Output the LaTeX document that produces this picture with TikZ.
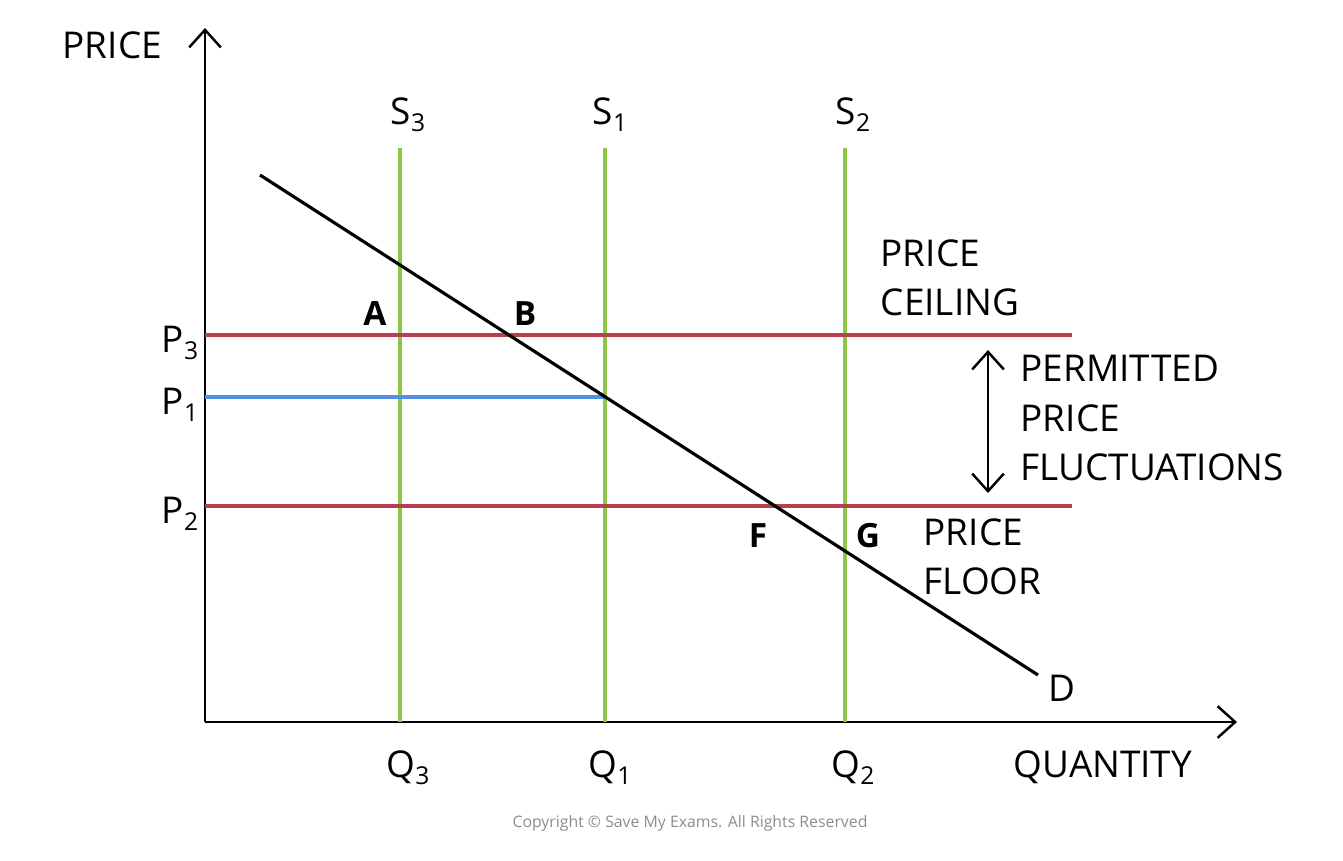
\documentclass[tikz,border=0pt]{standalone}
\usepackage{fontspec}
\setmainfont{Open Sans}
\usetikzlibrary{arrows.meta}
\definecolor{sgreen}{RGB}{140,200,70}
\definecolor{pred}{RGB}{180,65,75}
\definecolor{pblue}{RGB}{80,145,230}
\newcommand{\sbs}[1]{\raisebox{-0.35ex}{\fontsize{7}{8}\selectfont #1}}
\begin{document}
\begin{tikzpicture}[x=0.01cm,y=-0.01cm,
  lbl/.style={font=\fontsize{10.5}{12}\selectfont,inner sep=0pt},
  pt/.style={font=\fontsize{9.5}{11}\selectfont\bfseries,inner sep=0pt},
  axis/.style={line width=0.7pt,-{Straight Barb[length=5pt,width=9pt]}},
  sup/.style={sgreen,line width=0.9pt},
  lim/.style={pred,line width=0.9pt}]
\useasboundingbox (0,0) rectangle (1343,860);
\coordinate (O) at (205,722);
\coordinate (Ytop) at (205,28);
\coordinate (Xend) at (1237,722);
\draw[axis] (O) -- (Ytop);
\draw[axis] (O) -- (Xend);
\foreach \n/\x in {s3/400,s1/605,s2/845}{
  \coordinate (\n t) at (\x,148); \coordinate (\n b) at (\x,722);
  \draw[sup] (\n t) -- (\n b);}
\coordinate (p3a) at (205,335); \coordinate (p3b) at (1072,335);
\coordinate (p1a) at (205,397); \coordinate (p1b) at (605,397);
\coordinate (p2a) at (205,506); \coordinate (p2b) at (1072,506);
\draw[lim] (p3a) -- (p3b);
\draw[lim] (p2a) -- (p2b);
\draw[pblue,line width=0.9pt] (p1a) -- (p1b);
\coordinate (d1) at (260,175); \coordinate (d2) at (1038,675);
\draw[line width=0.9pt] (d1) -- (d2);
\coordinate (ua) at (988,350); \coordinate (da) at (988,493);
\draw[line width=0.7pt,{Straight Barb[length=5pt,width=9pt]}-{Straight Barb[length=5pt,width=9pt]}] (ua) -- (da);
\node[lbl,anchor=west] (price) at (62,45) {PRICE};
\node[lbl,anchor=west] (qty) at (1013,767) {QUANTITY};
\node[lbl] (S3) at (408,115) {S\sbs{3}};
\node[lbl] (S1) at (610,115) {S\sbs{1}};
\node[lbl] (S2) at (853,115) {S\sbs{2}};
\node[lbl] (Q3) at (408,768) {Q\sbs{3}};
\node[lbl] (Q1) at (610,768) {Q\sbs{1}};
\node[lbl] (Q2) at (853,768) {Q\sbs{2}};
\node[lbl] (P3) at (180,343) {P\sbs{3}};
\node[lbl] (P1) at (180,405) {P\sbs{1}};
\node[lbl] (P2) at (180,514) {P\sbs{2}};
\node[lbl] (D) at (1062,688) {D};
\node[pt] (A) at (375,314) {A};
\node[pt] (B) at (525,314) {B};
\node[pt] (F) at (758,536) {F};
\node[pt] (G) at (868,536) {G};
\node[lbl,anchor=west,align=left] (ceil) at (880,278) {PRICE\\[2pt]CEILING};
\node[lbl,anchor=west,align=left] (perm) at (1020,418) {PERMITTED\\[2pt]PRICE\\[2pt]FLUCTUATIONS};
\node[lbl,anchor=west,align=left] (floor) at (923,557) {PRICE\\[2pt]FLOOR};
\node[inner sep=0pt,text=black!45,font=\fontsize{4.5}{5}\selectfont] (copy) at (690,823) {Copyright © Save My Exams. All Rights Reserved};
\end{tikzpicture}
\end{document}
